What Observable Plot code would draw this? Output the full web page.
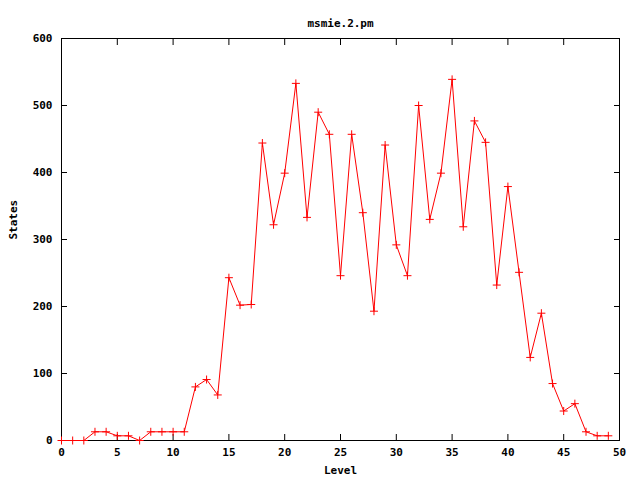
<!DOCTYPE html>
<html>
<head>
<meta charset="utf-8">
<script src="https://cdn.jsdelivr.net/npm/d3@7"></script>
<script src="https://cdn.jsdelivr.net/npm/@observablehq/plot@0.6"></script>
<style>
  html, body { margin: 0; padding: 0; background: #fff; }
</style>
</head>
<body>
<div id="chart"></div>
<script>
const title = "msmie.2.pm";
const xLabel = "Level";
const yLabel = "States";
const levels = [0,1,2,3,4,5,6,7,8,9,10,11,12,13,14,15,16,17,18,19,20,21,22,23,24,25,26,27,28,29,30,31,32,33,34,35,36,37,38,39,40,41,42,43,44,45,46,47,48,49];
const states = [0,0,0,13,13,7,7,0,13,13,13,13,80,91,68,243,202,203,444,322,399,533,333,490,457,246,457,340,193,441,292,246,500,330,399,539,319,477,445,232,379,251,124,190,85,44,55,13,7,7];
const xTicks = [0,5,10,15,20,25,30,35,40,45,50];
const yTicks = [0,100,200,300,400,500,600];

const data = levels.map((l, i) => ({level: l, states: states[i]}));

const plusSymbol = {
  draw(context, size) {
    const r = 4;
    context.moveTo(-r, 0); context.lineTo(r, 0);
    context.moveTo(0, -r); context.lineTo(0, r);
  }
};

const font = "'DejaVu Sans Mono', monospace";

const chart = Plot.plot({
  width: 640,
  height: 480,
  marginTop: 38,
  marginBottom: 40,
  marginLeft: 61,
  marginRight: 21,
  style: {fontFamily: font, fontSize: "11px", fontWeight: "bold", color: "black", background: "white"},
  x: {domain: [0, 50], ticks: xTicks},
  y: {domain: [0, 600], ticks: yTicks},
  marks: [
    Plot.axisX(xTicks, {anchor: "bottom", tickSize: 0, tickPadding: 8, label: null}),
    Plot.axisY(yTicks, {anchor: "left", tickSize: 0, tickPadding: 9, label: null}),
    Plot.axisX(xTicks, {anchor: "bottom", tickSize: -6, tickFormat: () => "", label: null}),
    Plot.axisX(xTicks, {anchor: "top", tickSize: -6, tickFormat: () => "", label: null}),
    Plot.axisY(yTicks, {anchor: "left", tickSize: -6, tickFormat: () => "", label: null}),
    Plot.axisY(yTicks, {anchor: "right", tickSize: -6, tickFormat: () => "", label: null}),
    Plot.frame({stroke: "black", strokeWidth: 1}),
    Plot.line(data, {x: "level", y: "states", stroke: "#ff0000", strokeWidth: 1}),
    Plot.dot(data, {x: "level", y: "states", symbol: plusSymbol, stroke: "#ff0000", fill: "none", strokeWidth: 1}),
    Plot.text([title], {frameAnchor: "top", dy: -19, text: d => d, fontSize: 11, fontWeight: "bold"}),
    Plot.text([xLabel], {frameAnchor: "bottom", dy: 33, text: d => d, fontSize: 11, fontWeight: "bold"}),
    Plot.text([yLabel], {frameAnchor: "left", dx: -48, rotate: -90, text: d => d, fontSize: 11, fontWeight: "bold"})
  ]
});
document.getElementById("chart").appendChild(chart);
</script>
</body>
</html>
